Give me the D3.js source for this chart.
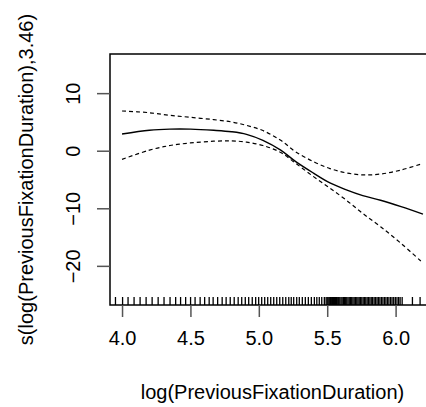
<!DOCTYPE html>
<html>
<head>
<meta charset="utf-8">
<script src="https://cdn.jsdelivr.net/npm/d3@7"></script>
<style>
  body { margin: 0; background: #fff; }
  svg text { font-family: "Liberation Sans", Arial, sans-serif; font-size: 20px; fill: #000; }
</style>
</head>
<body>
<div id="container"></div>
<script>
// smooth term estimate and its +/- 2se band
const fitX = [4.0, 4.2, 4.35, 4.5, 4.67, 4.8, 4.91, 5.03, 5.16, 5.27, 5.40, 5.52, 5.64, 5.76, 5.89, 6.04, 6.20];
const fitY = [2.9, 3.55, 3.75, 3.75, 3.55, 3.3, 2.85, 1.8, 0.1, -1.9, -3.9, -5.6, -6.8, -7.8, -8.6, -9.7, -11.0];
const upperY = [6.9, 6.6, 6.15, 5.8, 5.4, 5.0, 4.4, 3.5, 1.8, -0.2, -1.9, -3.1, -3.85, -4.2, -4.05, -3.35, -2.2];
const lowerY = [-1.5, 0.1, 0.9, 1.35, 1.65, 1.7, 1.5, 0.9, -0.3, -2.2, -4.5, -6.5, -8.6, -10.9, -13.2, -16.1, -19.5];

// rug of observed covariate values
const rugX = [3.952, 4.004, 4.044, 4.088, 4.132, 4.176, 4.220, 4.264, 4.307, 4.351, 4.392, 4.428, 4.465,
  4.501, 4.534, 4.571, 4.604, 4.637, 4.666, 4.699, 4.732, 4.761, 4.791, 4.820, 4.849, 4.875, 4.901,
  4.926, 4.952, 4.977, 4.999, 5.021, 5.043, 5.065, 5.087, 5.109, 5.131, 5.153, 5.175, 5.197, 5.219,
  5.237, 5.255, 5.277, 5.296, 5.318, 5.340, 5.362, 5.384, 5.406, 5.424, 5.442, 5.460, 5.479,
  5.492, 5.500, 5.507, 5.515, 5.523, 5.530, 5.538, 5.546, 5.553, 5.561, 5.569, 5.577, 5.584, 5.592,
  5.601, 5.609, 5.618, 5.626, 5.635, 5.643, 5.652, 5.661, 5.670, 5.679, 5.688, 5.697, 5.706, 5.716,
  5.725, 5.734, 5.744, 5.753, 5.763, 5.773, 5.782, 5.792, 5.802, 5.812, 5.822, 5.832, 5.843, 5.853,
  5.864, 5.874, 5.885, 5.896, 5.907, 5.918, 5.929, 5.940, 5.951, 5.963, 5.974, 5.986, 5.998, 6.010,
  6.022, 6.033, 6.048, 6.123, 6.179];

const xTicks = [4.0, 4.5, 5.0, 5.5, 6.0];
const yTicks = [10, 0, -10, -20];

const svg = d3.select("#container")
    .append('svg')
    .attr('width', 426)
    .attr('height', 407);

// plot region (right edge falls outside the picture)
const plotL = 110, plotT = 54, plotR = 435, plotB = 305;

const xScale = d3.scaleLinear().domain([3.912, 6.288]).range([plotL, plotR]);
const yScale = d3.scaleLinear().domain([-26.8, 16.8]).range([plotB, plotT]);

// box
svg.append('rect')
    .attr('x', plotL)
    .attr('y', plotT)
    .attr('width', plotR - plotL)
    .attr('height', plotB - plotT)
    .attr('fill', 'none')
    .attr('stroke', '#000')
    .attr('stroke-width', 1.5);

// x axis
const xAxis = d3.axisBottom(xScale)
    .tickValues(xTicks)
    .tickFormat(d3.format('.1f'))
    .tickSize(12)
    .tickPadding(14);
const xAxisGroup = svg.append('g')
    .attr('transform', 'translate(0,' + plotB + ')')
    .call(xAxis);
xAxisGroup.select('.domain').remove();
xAxisGroup.selectAll('line').attr('stroke', '#555').attr('stroke-width', 1.5);
xAxisGroup.selectAll('text').style('font-size', '20px').attr('fill', '#000');

// y axis
const yAxis = d3.axisLeft(yScale)
    .tickValues(yTicks)
    .tickFormat((d) => d < 0 ? '\u2212' + Math.abs(d) : d)
    .tickSize(13)
    .tickPadding(0);
const yAxisGroup = svg.append('g')
    .attr('transform', 'translate(' + plotL + ',0)')
    .call(yAxis);
yAxisGroup.select('.domain').remove();
yAxisGroup.selectAll('line').attr('stroke', '#555').attr('stroke-width', 1.5);
yAxisGroup.selectAll('text')
    .attr('x', null)
    .attr('dy', null)
    .attr('text-anchor', 'middle')
    .attr('transform', 'translate(-30,0) rotate(-90)')
    .style('font-size', '20px')
    .attr('fill', '#000');

// rug
svg.selectAll('.rug').data(rugX)
    .enter()
    .append('line')
    .attr('class', 'rug')
    .attr('x1', (d) => xScale(d))
    .attr('x2', (d) => xScale(d))
    .attr('y1', plotB)
    .attr('y2', plotB - 8)
    .attr('stroke', '#000')
    .attr('stroke-width', 1.3);

const lineMaker = d3.line()
    .x((d) => xScale(d[0]))
    .y((d) => yScale(d[1]))
    .curve(d3.curveCatmullRom.alpha(0.5));

const fitData = fitX.map((x, i) => [x, fitY[i]]);
const upData = fitX.map((x, i) => [x, upperY[i]]);
const loData = fitX.map((x, i) => [x, lowerY[i]]);

svg.append('path')
    .datum(fitData)
    .attr('d', lineMaker)
    .attr('stroke', '#000')
    .attr('stroke-width', 1.4)
    .style('fill', 'none');

svg.selectAll('.band').data([upData, loData])
    .enter()
    .append('path')
    .attr('class', 'band')
    .attr('d', lineMaker)
    .attr('stroke', '#000')
    .attr('stroke-width', 1.2)
    .attr('stroke-dasharray', '4,3')
    .style('fill', 'none');

// axis titles
svg.append('text')
    .attr('x', (plotL + plotR) / 2)
    .attr('y', 399)
    .attr('text-anchor', 'middle')
    .text('log(PreviousFixationDuration)');

svg.append('text')
    .attr('transform', 'translate(33,' + ((plotT + plotB) / 2) + ') rotate(-90)')
    .attr('text-anchor', 'middle')
    .text('s(log(PreviousFixationDuration),3.46)');
</script>
</body>
</html>
